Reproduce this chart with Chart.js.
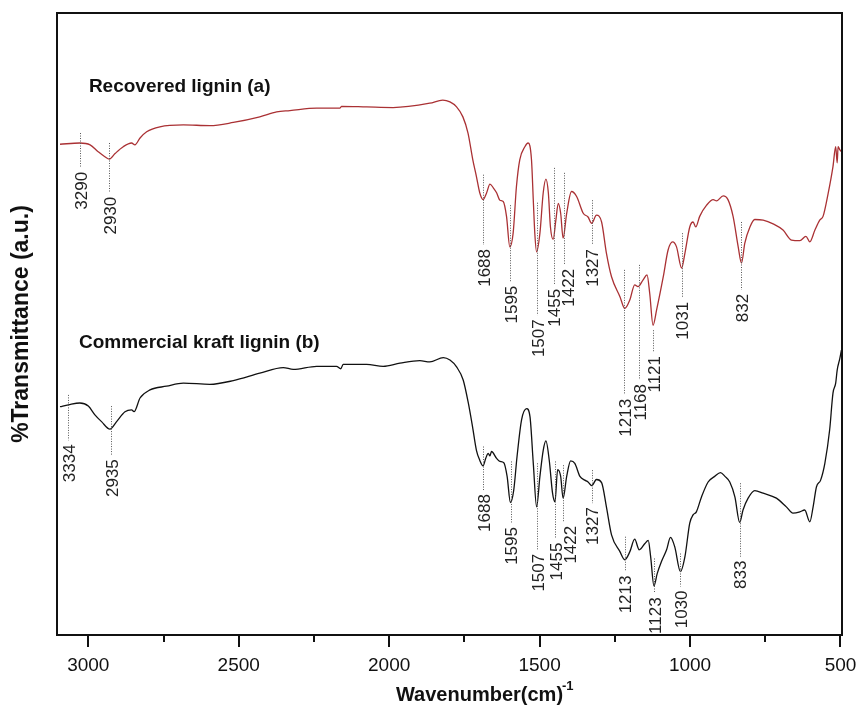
<!DOCTYPE html>
<html>
<head>
<meta charset="utf-8">
<script src="https://cdn.jsdelivr.net/npm/chart.js"></script>
<style>
  html, body { margin: 0; padding: 0; background: #fff; }
  #wrap { width: 857px; height: 718px; }
</style>
</head>
<body>
<div id="wrap"><canvas id="ftir" width="857" height="718"></canvas></div>
<script>
// recovered lignin (a) - wavenumber / transmittance (a.u.)
var wn_a = [3094, 3028, 2994, 2967, 2945, 2930, 2911, 2884, 2856, 2845, 2828, 2806, 2762, 2684, 2596, 2518, 2430, 2374, 2330, 2241,
  2164, 2158, 2075, 1987, 1865, 1822, 1798, 1776, 1755, 1738, 1722, 1710, 1699, 1688, 1676, 1665, 1654, 1643, 1632, 1621,
  1610, 1599, 1588, 1577, 1566, 1549, 1538, 1527, 1521, 1516, 1510, 1499, 1488, 1479, 1471, 1464, 1455, 1446, 1438, 1430,
  1422, 1410, 1394, 1377, 1355, 1339, 1327, 1311, 1294, 1278, 1261, 1233, 1217, 1200, 1184, 1173, 1156, 1143, 1134, 1123,
  1111, 1089, 1073, 1058, 1045, 1028, 1017, 1001, 990, 981, 968, 945, 923, 912, 890, 874, 857, 840, 829, 818,
  801, 785, 757, 724, 691, 663, 635, 615, 602, 585, 569, 558, 541, 525, 516, 511, 508, 502, 497];
var tr_a = [78.9, 79.1, 78.8, 77.7, 76.9, 76.5, 77.4, 78.5, 79.1, 78.8, 79.9, 80.9, 81.7, 82.0, 81.9, 82.4, 83.3, 84.1, 84.3, 84.7,
  84.7, 85.0, 84.9, 84.8, 85.5, 86.0, 85.7, 84.9, 83.3, 80.7, 76.4, 73.7, 71.1, 70.0, 71.1, 72.5, 71.9, 71.1, 69.9, 69.7,
  67.3, 62.4, 64.6, 72.1, 76.4, 78.5, 79.1, 76.4, 69.9, 64.6, 61.6, 64.6, 71.1, 73.3, 71.1, 65.6, 63.6, 66.7, 69.4, 67.8,
  63.8, 67.8, 71.3, 70.5, 67.8, 67.2, 66.2, 67.5, 66.4, 61.4, 57.6, 54.4, 52.5, 53.9, 56.3, 56.0, 57.1, 57.9, 54.9, 49.8,
  52.3, 57.6, 61.9, 63.2, 62.4, 59.0, 61.4, 65.6, 66.4, 65.6, 67.3, 69.1, 70.0, 69.8, 70.6, 70.0, 67.3, 62.4, 59.8, 63.0,
  65.6, 66.8, 66.7, 66.1, 65.1, 63.5, 63.4, 64.1, 63.2, 65.1, 66.7, 67.3, 71.0, 75.3, 78.5, 75.9, 78.5, 78.0, 77.7];

// commercial kraft lignin (b)
var wn_b = [3094, 3066, 3028, 3000, 2978, 2956, 2928, 2906, 2878, 2856, 2848, 2828, 2795, 2740, 2684, 2596, 2518, 2430, 2352, 2319,
  2241, 2175, 2161, 2153, 2075, 2020, 1964, 1898, 1865, 1820, 1798, 1776, 1754, 1737, 1723, 1710, 1699, 1688, 1679, 1671,
  1665, 1660, 1643, 1632, 1619, 1608, 1597, 1586, 1575, 1560, 1543, 1532, 1521, 1510, 1499, 1488, 1479, 1468, 1457, 1449,
  1440, 1430, 1422, 1410, 1397, 1383, 1366, 1350, 1339, 1327, 1311, 1294, 1278, 1261, 1233, 1217, 1200, 1184, 1169, 1150,
  1139, 1131, 1120, 1109, 1095, 1078, 1065, 1051, 1032, 1017, 1001, 990, 979, 962, 940, 918, 899, 884, 868, 851,
  835, 824, 807, 785, 757, 713, 680, 658, 635, 619, 602, 591, 580, 566, 552, 536, 525, 516, 511, 502, 497];
var tr_b = [36.7, 37.0, 37.3, 36.8, 35.4, 34.3, 33.1, 34.3, 35.9, 36.2, 35.9, 38.1, 39.4, 40.0, 40.5, 40.3, 40.9, 42.1, 43.0, 42.7,
  43.2, 43.2, 42.8, 43.5, 43.5, 43.2, 43.7, 44.1, 43.9, 44.6, 44.2, 43.1, 41.0, 37.3, 33.5, 29.7, 28.1, 27.2, 28.4, 29.2,
  28.8, 29.5, 28.4, 27.9, 27.7, 25.5, 21.3, 23.3, 28.7, 34.6, 36.4, 35.1, 27.6, 20.6, 25.5, 29.7, 31.2, 28.1, 22.8, 21.4,
  26.6, 25.5, 22.0, 25.5, 28.0, 27.6, 25.5, 24.9, 24.6, 24.0, 25.0, 24.5, 20.6, 16.1, 13.4, 12.1, 13.4, 15.4, 13.7, 14.7,
  15.2, 12.6, 7.9, 9.9, 11.8, 13.7, 15.7, 14.2, 10.2, 12.6, 18.0, 19.3, 19.8, 22.2, 24.6, 25.5, 26.1, 25.5, 24.6, 22.2,
  18.1, 20.1, 22.0, 23.2, 22.8, 22.0, 20.6, 19.6, 19.8, 20.1, 18.2, 20.6, 23.8, 24.9, 27.6, 33.0, 38.9, 40.5, 42.6, 44.5, 45.8];

// peak markers: label, position on axis, top and bottom of the dotted line
var peakText_a = ['3290', '2930', '1688', '1595', '1507', '1455', '1422', '1327', '1213', '1168', '1121', '1031', '832'];
var peakPos_a = [3028, 2931, 1688, 1598, 1509, 1453, 1420, 1327, 1220, 1169, 1123, 1028, 831];
var peakTop_a = [80.7, 79.1, 74.0, 69.1, 69.5, 75.1, 74.3, 69.9, 58.7, 59.5, 49.0, 64.6, 66.4];
var peakEnd_a = [75.1, 71.1, 62.7, 56.8, 51.4, 56.3, 59.5, 62.7, 38.6, 41.0, 45.5, 54.2, 55.5];

var peakText_b = ['3334', '2935', '1688', '1595', '1507', '1455', '1422', '1327', '1213', '1123', '1030', '833'];
var peakPos_b = [3066, 2925, 1688, 1596, 1509, 1449, 1422, 1327, 1217, 1120, 1032, 835];
var peakTop_b = [38.6, 36.8, 30.3, 27.9, 27.6, 27.9, 27.3, 26.5, 15.8, 12.3, 13.1, 24.4];
var peakEnd_b = [31.3, 28.9, 23.3, 18.0, 13.7, 15.5, 18.2, 21.2, 10.2, 6.7, 7.8, 12.6];

var seriesNames = ['Recovered lignin (a)', 'Commercial kraft lignin (b)'];
var namePos = [[2998, 87.3], [3031, 46.1]];
var xTicks = [3000, 2500, 2000, 1500, 1000, 500];
var xMinorTicks = [2750, 2250, 1750, 1250, 750];

function toPoints(xs, ys) {
    var pts = [];
    for (var i = 0; i < xs.length; i++) pts.push({ x: xs[i], y: ys[i] });
    return pts;
}

function drawPeaks(ctx, xs, ys, texts, pos, top, end) {
    var lastX = -100;
    for (var i = 0; i < texts.length; i++) {
        var px = xs.getPixelForValue(pos[i]);
        var y1 = ys.getPixelForValue(top[i]);
        var y2 = ys.getPixelForValue(end[i]);
        ctx.save();
        ctx.strokeStyle = '#555';
        ctx.lineWidth = 1;
        ctx.setLineDash([1, 1.5]);
        ctx.beginPath();
        ctx.moveTo(Math.round(px) + 0.5, y1);
        ctx.lineTo(Math.round(px) + 0.5, y2);
        ctx.stroke();
        ctx.restore();

        // keep neighbouring labels from overlapping
        var lx = Math.max(px + 2, lastX + 14);
        lastX = lx;
        ctx.save();
        ctx.translate(lx, y2 + 4);
        ctx.rotate(-Math.PI / 2);
        ctx.font = '17px "Liberation Sans", Arial, sans-serif';
        ctx.fillStyle = '#222';
        ctx.textAlign = 'right';
        ctx.textBaseline = 'middle';
        ctx.fillText(texts[i], 0, 0);
        ctx.restore();
    }
}

var decorPlugin = {
    id: 'decor',
    afterDraw: function (chart) {
        var ctx = chart.ctx, a = chart.chartArea;
        var xs = chart.scales.x, ys = chart.scales.y;

        drawPeaks(ctx, xs, ys, peakText_a, peakPos_a, peakTop_a, peakEnd_a);
        drawPeaks(ctx, xs, ys, peakText_b, peakPos_b, peakTop_b, peakEnd_b);

        // frame
        ctx.save();
        ctx.strokeStyle = '#111';
        ctx.lineWidth = 2;
        ctx.strokeRect(a.left, a.top, a.right - a.left, a.bottom - a.top);

        // tick marks
        ctx.beginPath();
        xTicks.forEach(function (v) {
            var p = Math.round(xs.getPixelForValue(v));
            ctx.moveTo(p, a.bottom);
            ctx.lineTo(p, a.bottom + 12);
        });
        xMinorTicks.forEach(function (v) {
            var p = Math.round(xs.getPixelForValue(v));
            ctx.moveTo(p, a.bottom);
            ctx.lineTo(p, a.bottom + 7);
        });
        ctx.stroke();

        // series names
        ctx.fillStyle = '#111';
        ctx.font = 'bold 19px "Liberation Sans", Arial, sans-serif';
        ctx.textBaseline = 'alphabetic';
        ctx.textAlign = 'left';
        for (var i = 0; i < seriesNames.length; i++) {
            ctx.fillText(seriesNames[i], xs.getPixelForValue(namePos[i][0]), ys.getPixelForValue(namePos[i][1]));
        }

        // x axis title with superscript
        var cx = (a.left + a.right) / 2 + 30;
        ctx.font = 'bold 20px "Liberation Sans", Arial, sans-serif';
        var t = 'Wavenumber(cm)';
        var w = ctx.measureText(t).width;
        ctx.fillText(t, cx - w / 2, a.bottom + 66);
        ctx.font = 'bold 13px "Liberation Sans", Arial, sans-serif';
        ctx.fillText('-1', cx + w / 2 - 1, a.bottom + 55);

        // y axis title
        ctx.translate(22, (a.top + a.bottom) / 2);
        ctx.rotate(-Math.PI / 2);
        ctx.textAlign = 'center';
        ctx.textBaseline = 'middle';
        ctx.font = 'bold 23px "Liberation Sans", Arial, sans-serif';
        ctx.fillText('%Transmittance (a.u.)', 0, 0);
        ctx.restore();
    }
};

function init_grafico_ftir() {
    if ("undefined" == typeof Chart) return;
    var cfg = {
        type: 'line',
        data: {
            datasets: [{
                label: seriesNames[0],
                data: toPoints(wn_a, tr_a),
                borderColor: '#aa3134',
                borderWidth: 1.3,
                pointRadius: 0,
                cubicInterpolationMode: 'monotone'
            }, {
                label: seriesNames[1],
                data: toPoints(wn_b, tr_b),
                borderColor: '#111',
                borderWidth: 1.3,
                pointRadius: 0,
                cubicInterpolationMode: 'monotone'
            }]
        },
        options: {
            responsive: false,
            animation: false,
            layout: { padding: { top: 13, right: 15, left: 0, bottom: 0 } },
            plugins: { legend: { display: false }, tooltip: { enabled: false } },
            scales: {
                x: {
                    type: 'linear',
                    reverse: true,
                    min: 495,
                    max: 3104,
                    afterFit: function (s) {
                        s.height = 83;
                        s.paddingLeft = 0;
                        s.paddingRight = 0;
                    },
                    afterBuildTicks: function (s) {
                        s.ticks = xTicks.map(function (v) { return { value: v }; });
                    },
                    grid: { display: false, drawTicks: false },
                    border: { display: false },
                    ticks: {
                        padding: 19,
                        color: '#111',
                        maxRotation: 0,
                        autoSkip: false,
                        callback: function (v) { return String(v); },
                        font: { family: '"Liberation Sans", Arial, sans-serif', size: 19 }
                    }
                },
                y: {
                    min: 0,
                    max: 100,
                    afterFit: function (s) { s.width = 57; },
                    grid: { display: false, drawTicks: false },
                    border: { display: false },
                    ticks: { display: false }
                }
            }
        },
        plugins: [decorPlugin]
    };
    new Chart(document.getElementById('ftir'), cfg);
}

init_grafico_ftir();
</script>
</body>
</html>
